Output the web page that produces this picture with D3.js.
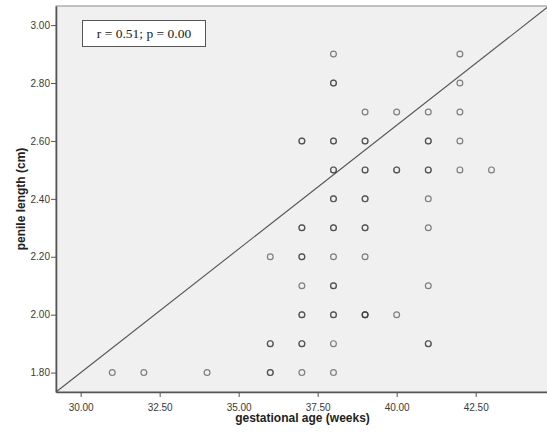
<!DOCTYPE html>
<html>
<head>
<meta charset="utf-8">
<script src="https://cdn.jsdelivr.net/npm/d3@7"></script>
<style>
    body { margin: 0; background: #fff; }
    svg { display: block; }
</style>
</head>
<body>
<div id="grafiek"></div>
<script>
// gestational age (weeks) per baby, penile length (cm) in the same order
// points that appear darker in the picture are listed twice (overlapping cases)
const ageWeeks = [
    31, 32, 34,
    36, 36, 36, 36, 36,
    37, 37, 37, 37, 37, 37, 37, 37, 37, 37, 37, 37,
    38, 38, 38, 38, 38, 38, 38, 38, 38, 38, 38, 38, 38, 38, 38, 38, 38, 38,
    39, 39, 39, 39, 39, 39, 39, 39, 39, 39, 39, 39, 39,
    40, 40, 40, 40,
    41, 41, 41, 41, 41, 41, 41, 41, 41, 41,
    42, 42, 42, 42, 42,
    43,
];
const lengthCm = [
    1.80, 1.80, 1.80,
    2.20, 1.90, 1.90, 1.80, 1.80,
    2.60, 2.60, 2.30, 2.30, 2.20, 2.20, 2.10, 2.00, 2.00, 1.90, 1.90, 1.80,
    2.90, 2.80, 2.80, 2.60, 2.60, 2.50, 2.50, 2.40, 2.40, 2.30, 2.30, 2.20, 2.10, 2.10, 2.00, 2.00, 1.90, 1.80,
    2.70, 2.60, 2.60, 2.50, 2.50, 2.40, 2.40, 2.30, 2.30, 2.20, 2.00, 2.00, 2.00,
    2.70, 2.50, 2.50, 2.00,
    2.70, 2.60, 2.60, 2.50, 2.50, 2.40, 2.30, 2.10, 1.90, 1.90,
    2.90, 2.80, 2.70, 2.60, 2.50,
    2.50,
];
const xTicks = [30, 32.5, 35, 37.5, 40, 42.5];
const yTicks = [1.8, 2.0, 2.2, 2.4, 2.6, 2.8, 3.0];
const statLabel = 'r = 0.51; p = 0.00';

const breedte = 547;
const hoogte = 438;
const links = 56, rechts = 549, boven = 6, onder = 392;

const svg = d3.select('#grafiek').append('svg')
    .attr('width', breedte)
    .attr('height', hoogte);

const x = d3.scaleLinear().domain([29.22, 44.82]).range([links, rechts]);
const y = d3.scaleLinear().domain([1.733, 3.066]).range([onder, boven]);

// plot area
svg.append('rect')
    .attr('x', links).attr('y', boven)
    .attr('width', rechts - links).attr('height', onder - boven)
    .attr('fill', '#f0f0f0')
    .attr('stroke', '#8a8a8a')
    .attr('stroke-width', 1);

// axes
const xAs = svg.append('g')
    .attr('transform', `translate(0,${onder})`)
    .call(d3.axisBottom(x).tickValues(xTicks).tickFormat(d3.format('.2f')).tickSize(5).tickSizeOuter(0));
const yAs = svg.append('g')
    .attr('transform', `translate(${links},0)`)
    .call(d3.axisLeft(y).tickValues(yTicks).tickFormat(d3.format('.2f')).tickSize(5).tickSizeOuter(0));

[xAs, yAs].forEach(as => {
    as.select('.domain').attr('stroke', '#555').attr('stroke-width', 1.6);
    as.selectAll('.tick line').attr('stroke', '#555');
    as.selectAll('.tick text')
        .style('font-family', '"Liberation Sans", Arial, sans-serif')
        .style('font-size', '10px')
        .attr('fill', '#3a3a3a');
});
xAs.selectAll('.tick text').attr('dy', '1.05em');
yAs.selectAll('.tick text').attr('x', -6);

// corner to corner reference line
svg.append('line')
    .attr('x1', x(29.22)).attr('y1', y(1.733))
    .attr('x2', x(44.82)).attr('y2', y(3.066))
    .attr('stroke', '#555')
    .attr('stroke-width', 1.1);

// points
svg.append('g').selectAll('circle')
    .data(ageWeeks.map((a, i) => [a, lengthCm[i]]))
    .join('circle')
    .attr('cx', d => x(d[0]))
    .attr('cy', d => y(d[1]))
    .attr('r', 2.9)
    .attr('fill', 'none')
    .attr('stroke', '#333')
    .attr('stroke-opacity', 0.6)
    .attr('stroke-width', 1.2);

// statistics box
svg.append('rect')
    .attr('x', 82.5).attr('y', 20.5)
    .attr('width', 123).attr('height', 26)
    .attr('fill', '#fff')
    .attr('stroke', '#555');
svg.append('text')
    .attr('x', 144).attr('y', 38)
    .attr('text-anchor', 'middle')
    .style('font-family', '"Liberation Serif", "Times New Roman", serif')
    .style('font-size', '13.5px')
    .attr('fill', '#222')
    .text(statLabel);

// axis titles
svg.append('text')
    .attr('x', (links + rechts) / 2).attr('y', 422)
    .attr('text-anchor', 'middle')
    .style('font-family', '"Liberation Sans", Arial, sans-serif')
    .style('font-size', '12px')
    .style('font-weight', 'bold')
    .attr('fill', '#222')
    .text('gestational age (weeks)');
svg.append('text')
    .attr('transform', `translate(25,${(boven + onder) / 2}) rotate(-90)`)
    .attr('text-anchor', 'middle')
    .style('font-family', '"Liberation Sans", Arial, sans-serif')
    .style('font-size', '12px')
    .style('font-weight', 'bold')
    .attr('fill', '#222')
    .text('penile length (cm)');
</script>
</body>
</html>
